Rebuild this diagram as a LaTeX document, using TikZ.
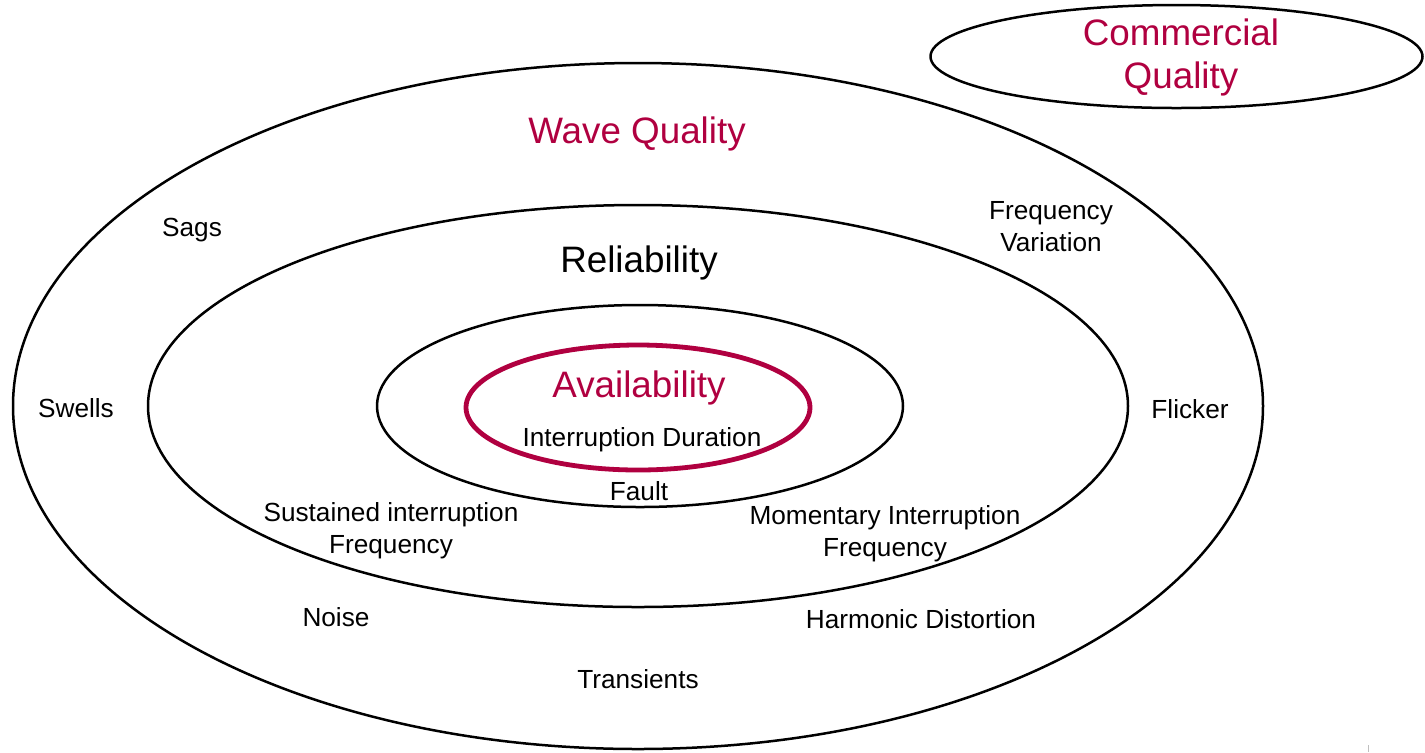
\documentclass[tikz,border=0pt]{standalone}
\usepackage{fontspec}
\setmainfont{Liberation Sans}
\definecolor{wine}{RGB}{176,0,64}
\begin{document}
\begin{tikzpicture}[x=0.5pt,y=-0.5pt,
  ring/.style={draw=black,line width=1.25pt},
  redring/.style={draw=wine,line width=2.4pt},
  big/.style={font=\fontsize{18.4}{21.5}\selectfont,inner sep=0pt,align=center},
  small/.style={font=\fontsize{13.1}{15.6}\selectfont,inner sep=0pt,align=center},
  title/.style={big,text=wine}]
\useasboundingbox (0,0) rectangle (1425,752);
% ellipses
\draw[ring] (638,406) ellipse [x radius=625,y radius=343];
\draw[ring] (638,406) ellipse [x radius=490,y radius=201];
\draw[ring] (640,406) ellipse [x radius=263,y radius=101];
\draw[redring] (638,407.5) ellipse [x radius=172,y radius=62.5];
\draw[ring] (1176.5,56.5) ellipse [x radius=246,y radius=51.5];
% titles (base anchor = baseline of last line)
\node[title,anchor=base] (comm) at (1181,88) {Commercial\\Quality};
\node[title,anchor=base] (wave) at (637,143) {Wave Quality};
\node[big,anchor=base] (rel) at (639,272) {Reliability};
\node[title,anchor=base] (avail) at (639,397) {Availability};
% labels
\node[small,anchor=base] (intdur) at (642,446) {Interruption Duration};
\node[small,anchor=base] (fault) at (639,500) {Fault};
\node[small,anchor=base] (sags) at (192,236) {Sags};
\node[small,anchor=base] (freqvar) at (1051,251) {Frequency\\Variation};
\node[small,anchor=base] (swells) at (76,417) {Swells};
\node[small,anchor=base] (flicker) at (1190,418) {Flicker};
\node[small,anchor=base] (sust) at (391,553) {Sustained interruption\\Frequency};
\node[small,anchor=base] (mom) at (885,556) {Momentary Interruption\\Frequency};
\node[small,anchor=base] (noise) at (336,626) {Noise};
\node[small,anchor=base] (harm) at (921,628) {Harmonic Distortion};
\node[small,anchor=base] (trans) at (638,688) {Transients};
\draw[gray!50,line width=0.5pt] (1368,745) -- (1368,752);
\end{tikzpicture}
\end{document}
